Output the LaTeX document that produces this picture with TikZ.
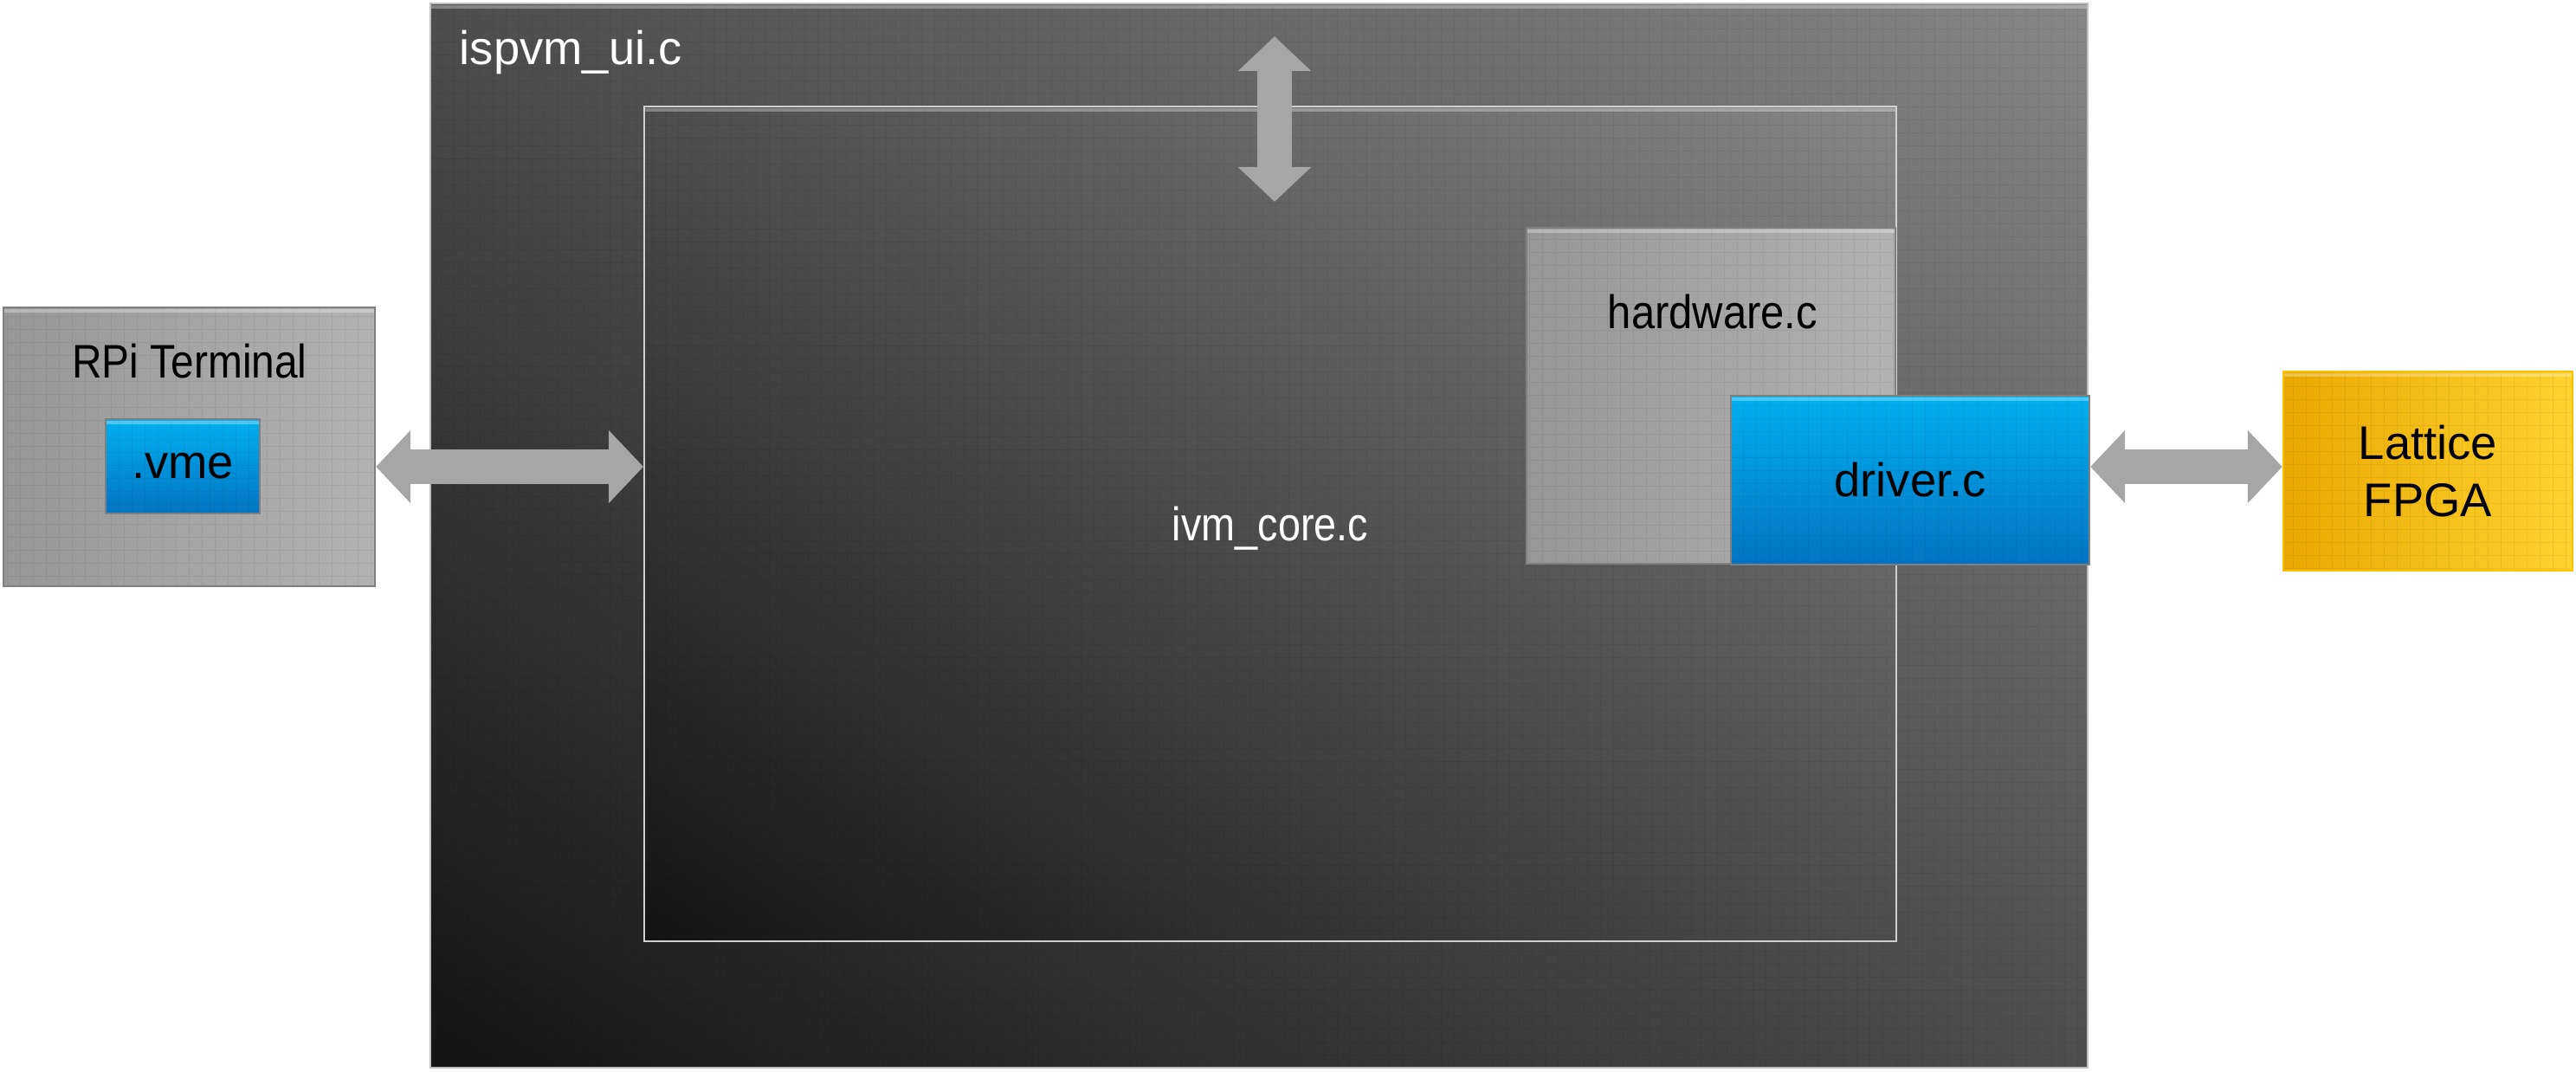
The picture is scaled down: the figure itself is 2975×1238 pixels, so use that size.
\documentclass[tikz,border=0pt]{standalone}
\usepackage{fontspec}
\setmainfont{Liberation Sans}
\newfontfamily\rpifont{Liberation Sans}[FakeStretch=0.88]
\newfontfamily\hwfont{Liberation Sans}[FakeStretch=0.9]
\newfontfamily\corefont{Liberation Sans}[FakeStretch=0.86]
\usetikzlibrary{arrows.meta,calc}
\definecolor{boxleft}{HTML}{979797}
\definecolor{boxright}{HTML}{B2B2B2}
\definecolor{boxline}{HTML}{7F7F7F}
\definecolor{bluetop}{HTML}{00B0F0}
\definecolor{bluebot}{HTML}{0274C4}
\definecolor{fpgaleft}{HTML}{EAA800}
\definecolor{fpgaright}{HTML}{FFD32E}
\definecolor{fpgaline}{HTML}{FFC000}
\definecolor{linkgray}{HTML}{A6A6A6}
\definecolor{uiline}{HTML}{BFBFBF}
\definecolor{coreline}{HTML}{D0D0D0}
% dark diagonal fill: dark in the lower left, light in the upper right
\pgfdeclarefunctionalshading{uidiag}{\pgfpoint{-50bp}{-50bp}}{\pgfpoint{50bp}{50bp}}{}{
  add 50 add 100 div
  dup 0 lt {pop 0} if dup 1 gt {pop 1} if
  0.451 mul 0.078 add dup dup
}

\begin{document}
\begin{tikzpicture}[x=0.25pt, y=-0.25pt,
  every node/.style={font=\fontsize{13.6}{16.5}\selectfont, inner sep=0pt},
  texture/.style={path picture={\draw[black, opacity=0.06, line width=0.25pt, step=3.75pt]
    (path picture bounding box.south west) grid (path picture bounding box.north east);
    \draw[white, opacity=0.3, line width=0.8pt]
      ([yshift=-1pt]path picture bounding box.north west) -- ([yshift=-1pt]path picture bounding box.north east);}},
  darkbox/.style={draw=#1, line width=0.5pt, shading=uidiag, texture},
  greybox/.style={draw=boxline, line width=0.6pt, left color=boxleft, right color=boxright, texture},
  bluebox/.style={draw=boxline, line width=0.6pt, top color=bluetop, bottom color=bluebot, texture},
  fpgabox/.style={draw=fpgaline, line width=0.6pt, left color=fpgaleft, right color=fpgaright,
    align=center, texture},
  link/.style={linkgray, line width=10pt,
    {Triangle[length=10pt, width=20.5pt]}-{Triangle[length=10pt, width=20.5pt]}}]

  \useasboundingbox (0,0) rectangle (2975,1238);

  %% outer and inner program blocks
  \node[darkbox=uiline, minimum width=478.5pt, minimum height=307.25pt] (ui) at (1454,618.5) {};
  \node[white, anchor=base west] (uiname) at (530,75) {ispvm\_ui.c};
  \node[darkbox=coreline, minimum width=361.5pt, minimum height=241pt, text=white, text depth=0pt]
    (core) at (1467,605) {\corefont ivm\_core.c};

  \node[greybox, minimum width=106.5pt, minimum height=97pt] (hw) at (1976,457) {};
  \node[anchor=base] (hwname) at (1978,380) {\hwfont hardware.c};
  \node[bluebox, minimum width=103.5pt, minimum height=48.75pt] (driver) at (2206,554.5) {driver.c};

  %% terminal side
  \node[greybox, minimum width=107.25pt, minimum height=80.5pt] (rpi) at (218.5,516) {};
  \node[anchor=base] (rpiname) at (219,437) {\rpifont RPi Terminal};
  \node[bluebox, minimum width=44.5pt, minimum height=27.25pt] (vme) at (211,538.5) {.vme};

  %% target
  \node[fpgabox, minimum width=83.5pt, minimum height=57.5pt] (fpga) at (2804,544) {Lattice\\FPGA};

  %% links
  \coordinate (row) at (0,539);
  \coordinate (uptip) at (1472,42);
  \coordinate (downtip) at (1472,233);
  \draw[link] (rpi.east |- row) -- (core.west |- row); %% RPi <-> core
  \draw[link] (uptip) -- (downtip); %% ui <-> core
  \draw[link] (driver.east |- row) -- (fpga.west |- row); %% driver <-> FPGA
\end{tikzpicture}
\end{document}
